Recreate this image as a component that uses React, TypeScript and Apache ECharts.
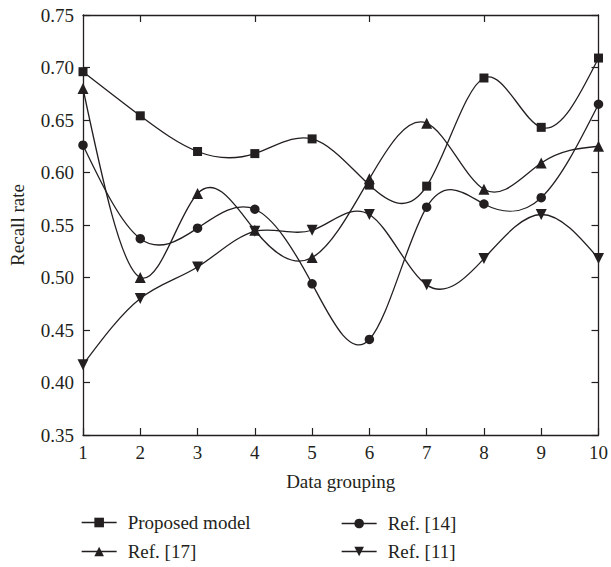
import React, { useEffect, useRef } from "react";
import * as echarts from "echarts";

const groups = [1, 2, 3, 4, 5, 6, 7, 8, 9, 10];
const proposedModel = [0.696, 0.654, 0.620, 0.618, 0.632, 0.588, 0.587, 0.690, 0.643, 0.709];
const ref17 = [0.680, 0.500, 0.580, 0.545, 0.519, 0.594, 0.647, 0.584, 0.609, 0.625];
const ref14 = [0.626, 0.537, 0.547, 0.565, 0.494, 0.441, 0.567, 0.570, 0.576, 0.665];
const ref11 = [0.417, 0.480, 0.510, 0.544, 0.545, 0.560, 0.493, 0.518, 0.560, 0.518];
const seriesNames = ["Proposed model", "Ref. [17]", "Ref. [14]", "Ref. [11]"];
const yTicks = [0.35, 0.4, 0.45, 0.5, 0.55, 0.6, 0.65, 0.7, 0.75];

const INK = "#231f20";
const FONT = "Liberation Serif";
const FS = 19;

// natural cubic spline second derivatives (rendering helper)
function splineM(xs: number[], ys: number[]) {
  const n = xs.length;
  const M = new Array(n).fill(0);
  if (n < 3) return M;
  const a: number[] = [], b: number[] = [], c: number[] = [], d: number[] = [];
  for (let i = 1; i < n - 1; i++) {
    const h0 = xs[i] - xs[i - 1];
    const h1 = xs[i + 1] - xs[i];
    a.push(h0);
    b.push(2 * (h0 + h1));
    c.push(h1);
    d.push(6 * ((ys[i + 1] - ys[i]) / h1 - (ys[i] - ys[i - 1]) / h0));
  }
  const m = b.length;
  for (let i = 1; i < m; i++) {
    const w = a[i] / b[i - 1];
    b[i] -= w * c[i - 1];
    d[i] -= w * d[i - 1];
  }
  const sol = new Array(m).fill(0);
  sol[m - 1] = d[m - 1] / b[m - 1];
  for (let i = m - 2; i >= 0; i--) sol[i] = (d[i] - c[i] * sol[i + 1]) / b[i];
  for (let i = 0; i < m; i++) M[i + 1] = sol[i];
  return M;
}

function splineSeries(vals: number[]) {
  const M = splineM(groups, vals);
  return {
    type: "custom",
    silent: true,
    z: 1,
    data: groups.map((g, i) => [g, vals[i]]),
    encode: { x: 0, y: 1 },
    renderItem: (params: any, api: any) => {
      const i = params.dataIndex;
      if (i >= groups.length - 1) return null;
      const x0 = groups[i], x1 = groups[i + 1];
      const y0 = vals[i], y1 = vals[i + 1];
      const h = x1 - x0;
      const d0 = (y1 - y0) / h - (h * (2 * M[i] + M[i + 1])) / 6;
      const d1 = (y1 - y0) / h + (h * (M[i] + 2 * M[i + 1])) / 6;
      const p0 = api.coord([x0, y0]);
      const p1 = api.coord([x0 + h / 3, y0 + (h / 3) * d0]);
      const p2 = api.coord([x1 - h / 3, y1 - (h / 3) * d1]);
      const p3 = api.coord([x1, y1]);
      return {
        type: "bezierCurve",
        shape: { x1: p0[0], y1: p0[1], cpx1: p1[0], cpy1: p1[1], cpx2: p2[0], cpy2: p2[1], x2: p3[0], y2: p3[1] },
        style: { stroke: INK, fill: "none", lineWidth: 1.3 },
      };
    },
  };
}

export default function App() {
  const ref = useRef<HTMLDivElement>(null);
  useEffect(() => {
    document.body.style.margin = "0";
    const chart = echarts.init(ref.current!, null, { renderer: "svg" });
    const mk = (name: string, vals: number[], symbol: string, size: number) => ({
      name,
      type: "line",
      z: 3,
      data: groups.map((g, i) => [g, vals[i]]),
      symbol,
      symbolSize: size,
      showSymbol: true,
      lineStyle: { color: INK, width: 1.3, opacity: 0 },
      itemStyle: { color: INK },
      emphasis: { disabled: true },
    });
    const legendItem = (name: string, left: number, top: number) => ({
      orient: "vertical",
      left,
      top,
      itemWidth: 35,
      itemHeight: 12,
      data: [name],
      lineStyle: { color: INK, width: 1.3, opacity: 1 },
      textStyle: { fontFamily: FONT, fontSize: FS, color: INK, padding: [0, 0, 0, 6] },
      selectedMode: false,
    });
    chart.setOption({
      animation: false,
      backgroundColor: "#fff",
      grid: { left: 81, right: 10, top: 15, bottom: 132 },
      legend: [
        legendItem(seriesNames[0], 76, 508),
        legendItem(seriesNames[1], 76, 537),
        legendItem(seriesNames[2], 336, 509),
        legendItem(seriesNames[3], 336, 537),
      ],
      xAxis: [
        {
          type: "value",
          min: 1,
          max: 10,
          interval: 1,
          name: "Data grouping",
          nameLocation: "middle",
          nameGap: 37,
          nameTextStyle: { fontFamily: FONT, fontSize: FS, color: INK },
          axisLine: { lineStyle: { color: INK, width: 1.3 } },
          axisTick: { inside: true, length: 7, lineStyle: { color: INK, width: 1.2 } },
          axisLabel: { fontFamily: FONT, fontSize: FS, color: INK, margin: 8 },
          splitLine: { show: false },
        },
        {
          type: "value",
          position: "top",
          min: 1,
          max: 10,
          axisLine: { lineStyle: { color: INK, width: 1.3 } },
          axisTick: { inside: true, length: 7, customValues: [2, 4, 6, 8], lineStyle: { color: INK, width: 1.2 } },
          axisLabel: { show: false },
          splitLine: { show: false },
        },
      ],
      yAxis: [
        {
          type: "value",
          min: 0.35,
          max: 0.75,
          interval: 0.05,
          name: "Recall rate",
          nameLocation: "middle",
          nameGap: 56,
          nameRotate: 90,
          nameTextStyle: { fontFamily: FONT, fontSize: FS, color: INK },
          axisLine: { show: true, lineStyle: { color: INK, width: 1.3 } },
          axisTick: { show: true, inside: true, length: 7, customValues: yTicks, lineStyle: { color: INK, width: 1.2 } },
          axisLabel: {
            fontFamily: FONT,
            fontSize: FS,
            color: INK,
            margin: 9,
            customValues: yTicks,
            formatter: (v: number) => v.toFixed(2),
          },
          splitLine: { show: false },
        },
        {
          type: "value",
          position: "right",
          min: 0.35,
          max: 0.75,
          interval: 0.05,
          axisLine: { show: true, lineStyle: { color: INK, width: 1.3 } },
          axisTick: { show: true, inside: true, length: 7, customValues: yTicks, lineStyle: { color: INK, width: 1.2 } },
          axisLabel: { show: false },
          splitLine: { show: false },
        },
      ],
      series: [
        splineSeries(proposedModel),
        splineSeries(ref17),
        splineSeries(ref14),
        splineSeries(ref11),
        mk(seriesNames[0], proposedModel, "rect", 9),
        mk(seriesNames[1], ref17, "triangle", 11),
        mk(seriesNames[2], ref14, "circle", 9.5),
        mk(seriesNames[3], ref11, "path://M0,0 L10,0 L5,8.7 Z", 11),
      ],
    });
    return () => chart.dispose();
  }, []);
  return <div ref={ref} style={{ width: 611, height: 567 }} />;
}
